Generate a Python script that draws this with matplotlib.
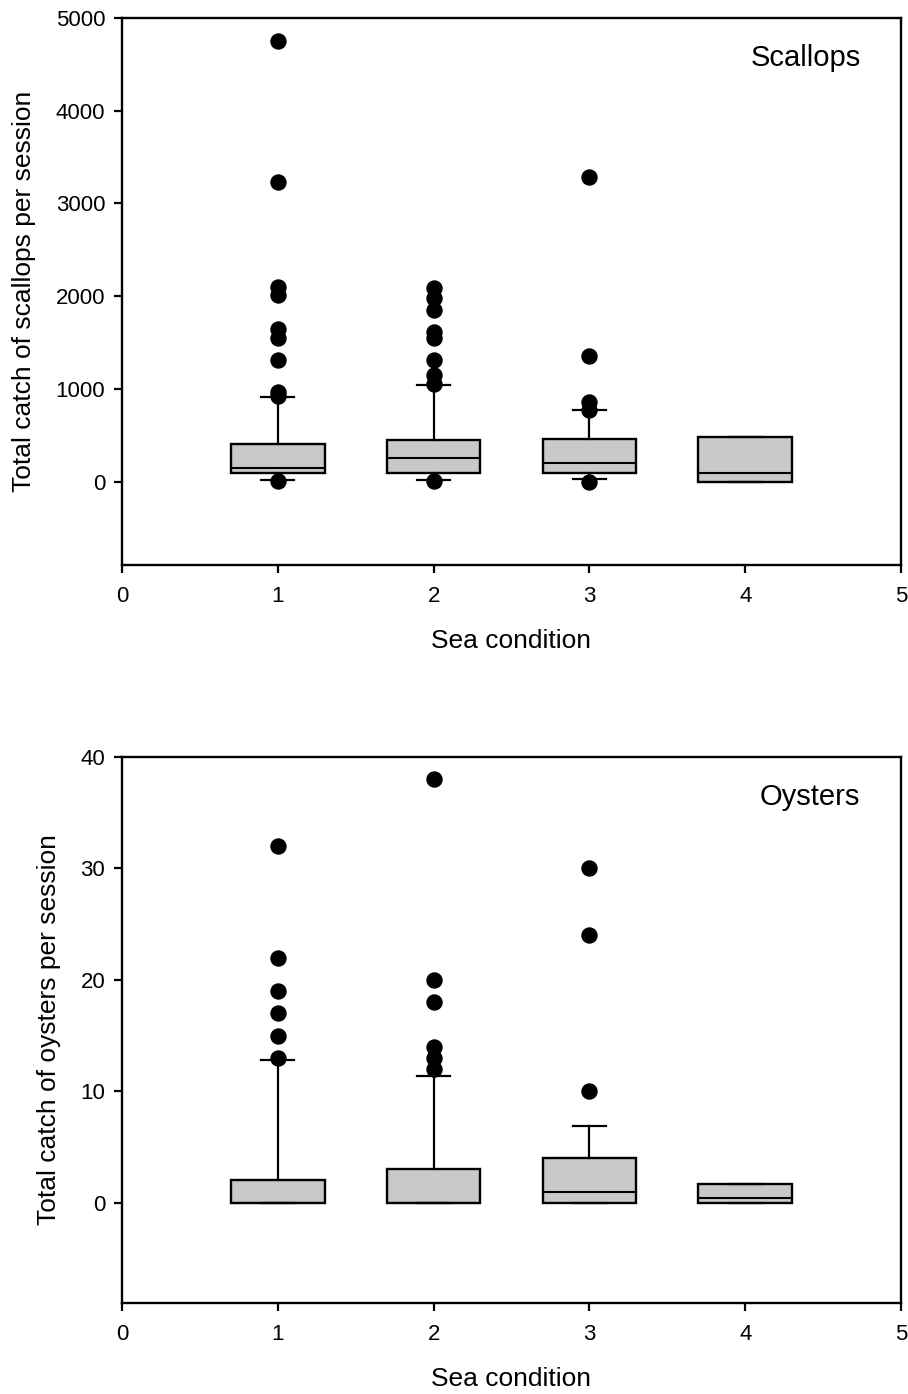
import matplotlib
matplotlib.use("Agg")
import matplotlib.pyplot as plt

plt.rcParams['font.family'] = ['Liberation Sans', 'DejaVu Sans']

# ---- data ----
positions = [1, 2, 3, 4]

# Scallops
sc_q1 = [90, 94, 90, 0]
sc_med = [148, 256, 202, 90]
sc_q3 = [407, 446, 457, 486]
sc_wlo = [14, 14, 29, 0]
sc_whi = [907, 1037, 767, 486]
sc_out = [
    [4750, 3230, 2100, 2010, 1645, 1552, 1307, 964, 921, 3],
    [2090, 1980, 1854, 1617, 1552, 1307, 1152, 1055, 3],
    [3285, 1350, 853, 767, 0],
    [],
]

# Oysters
oy_q1 = [0, 0, 0, 0]
oy_med = [0, 0, 1, 0.4]
oy_q3 = [2, 3, 4, 1.7]
oy_wlo = [0, 0, 0, 0]
oy_whi = [12.8, 11.4, 6.9, 1.7]
oy_out = [
    [32, 22, 19, 17, 15, 13],
    [38, 20, 18, 14, 13, 12],
    [30, 24, 10],
    [],
]

xticks = [0, 1, 2, 3, 4, 5]
sc_yticks = [0, 1000, 2000, 3000, 4000, 5000]
oy_yticks = [0, 10, 20, 30, 40]


def make_stats(q1, med, q3, wlo, whi, out):
    stats = []
    for i in range(len(q1)):
        stats.append(dict(q1=q1[i], med=med[i], q3=q3[i],
                          whislo=wlo[i], whishi=whi[i], fliers=out[i]))
    return stats


W, H = 908, 1394
fig = plt.figure(figsize=(W / 100, H / 100), dpi=100)

left = 122 / W
width = (901 - 122) / W
ax1 = fig.add_axes([left, 1 - 565 / H, width, (565 - 18) / H])
ax2 = fig.add_axes([left, 1 - 1303 / H, width, (1303 - 757) / H])

box_face = '#c9c9c9'


def draw(ax, stats, ylim, yticks, ylabel, title):
    ax.bxp(stats, positions=positions, widths=0.6, capwidths=0.21,
           patch_artist=True, showfliers=True,
           boxprops=dict(facecolor=box_face, edgecolor='black', linewidth=1.7),
           medianprops=dict(color='black', linewidth=1.5),
           whiskerprops=dict(color='black', linewidth=1.6),
           capprops=dict(color='black', linewidth=1.6),
           flierprops=dict(marker='o', markerfacecolor='black',
                           markeredgecolor='black', markersize=10.8,
                           linestyle='none'))
    ax.set_xlim(0, 5)
    ax.set_ylim(*ylim)
    ax.set_xticks(xticks)
    ax.set_xticklabels([str(t) for t in xticks])
    ax.set_yticks(yticks)
    ax.set_yticklabels([str(t) for t in yticks])
    for s in ax.spines.values():
        s.set_linewidth(1.7)
    ax.tick_params(axis='both', direction='out', length=6, width=1.6,
                   labelsize=16)
    ax.tick_params(axis='y', pad=6)
    ax.tick_params(axis='x', pad=9)
    ax.set_xlabel('Sea condition', fontsize=19, labelpad=16)
    ax.set_ylabel(ylabel, fontsize=19, labelpad=14)
    ax.text(0.948, 0.912, title, transform=ax.transAxes, ha='right',
            va='baseline', fontsize=21)


draw(ax1, make_stats(sc_q1, sc_med, sc_q3, sc_wlo, sc_whi, sc_out),
     (-900, 5000), sc_yticks, 'Total catch of scallops per session', 'Scallops')
draw(ax2, make_stats(oy_q1, oy_med, oy_q3, oy_wlo, oy_whi, oy_out),
     (-9, 40), oy_yticks, 'Total catch of oysters per session', 'Oysters')

fig.savefig('out.png', dpi=100)
